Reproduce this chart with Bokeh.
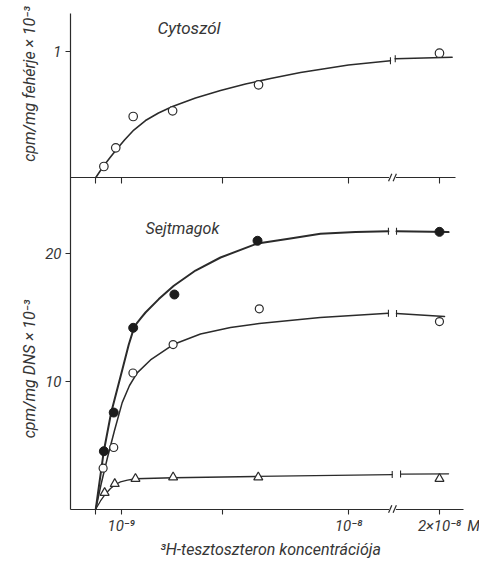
import math
from bokeh.plotting import figure
from bokeh.models import Range1d, FixedTicker, Label, LinearAxis
from bokeh.embed import file_html
from bokeh.resources import INLINE

# ---------------- data (concentration in units of 1e-9 M) ----------------
CYTO_C = [0.32, 0.79, 1.48, 3.04, 6.44, 20]
CYTO_Y = [0.087, 0.235, 0.483, 0.528, 0.734, 0.984]          # cpm/mg protein x 1e-3
CYTO_FIT_C = [0, 0.186, 0.384, 0.582, 0.819, 1.136, 1.504, 1.967, 2.481, 3.035, 3.945,
              4.935, 5.925, 6.914, 8.101, 10.0, 11.66, 18.25, 20.5]
CYTO_FIT_Y = [0, 0.055, 0.111, 0.162, 0.222, 0.297, 0.376, 0.451, 0.511, 0.562, 0.630,
              0.689, 0.740, 0.784, 0.831, 0.891, 0.924, 0.940, 0.952]

FILLED_C = [0.32, 0.71, 1.48, 3.11, 6.40, 20]
FILLED_Y = [4.53, 7.56, 14.2, 16.81, 21.02, 21.72]            # cpm/mg DNA x 1e-3
FILLED_FIT_C = [0, 0.317, 0.609, 1.041, 1.30, 1.48, 1.62, 1.80, 1.967, 2.493, 3.087, 3.945,
                4.935, 6.399, 7.70, 8.89, 10.28, 11.58, 18.3, 20.36]
FILLED_FIT_Y = [0, 4.53, 7.56, 10.85, 12.85, 14.0, 14.55, 15.0, 15.4, 16.45, 17.5, 18.69,
                19.71, 20.81, 21.20, 21.57, 21.71, 21.77, 21.77, 21.70]

OPEN_C = [0.29, 0.71, 1.47, 3.06, 6.47, 20]
OPEN_Y = [3.2, 4.82, 10.66, 12.89, 15.69, 14.69]
OPEN_FIT_C = [0, 0.226, 0.463, 0.740, 1.045, 1.334, 1.638, 2.165, 3.063, 4.143, 5.330,
              6.466, 8.88, 11.58, 18.3, 20.2]
OPEN_FIT_Y = [0, 2.08, 4.04, 6.15, 8.34, 9.68, 10.67, 11.68, 12.89, 13.71, 14.22,
              14.54, 15.01, 15.34, 15.32, 15.09]

TRI_C = [0.35, 0.75, 1.57, 3.06, 6.43, 20]
TRI_Y = [1.27, 1.97, 2.37, 2.49, 2.49, 2.37]
TRI_FIT_C = [0, 0.186, 0.384, 0.582, 0.780, 0.977, 1.254, 1.571, 3.063, 6.399, 11.73, 18.46, 20.36]
TRI_FIT_Y = [0, 0.63, 1.18, 1.61, 1.92, 2.12, 2.27, 2.37, 2.45, 2.55, 2.70, 2.74, 2.76]

X_TICKS_C = [0, 1, 5, 10, 20]
X_TICK_LABELS = ["", "10⁻⁹", "", "10⁻⁸", "2×10⁻⁸"]
Y_TICKS_LOWER = [10, 20]
Y_TICKS_TOP = [1]

# ---------------- broken x axis ----------------
BREAK_C = 12.0          # the axis is broken after this concentration
POS_20 = 13.6           # drawn position of 2x10^-8 M
SHIFT = 20 - POS_20
BREAK_POS = 11.74


def disp(c):
    return c if c <= BREAK_C else c - SHIFT


def split(cs, ys):
    pre = [(disp(c), y) for c, y in zip(cs, ys) if c <= BREAK_C]
    post = [(disp(c), y) for c, y in zip(cs, ys) if c > BREAK_C]
    return pre, post


FONT = "Roboto"
INK = "#2b2b2b"
TXT = "#363636"

# ranges cover the whole canvas; the axes are drawn at fixed locations
XR = Range1d(-3.771, 15.184)
YR = Range1d(-4.114, 39.851)          # lower panel (cpm/mg DNS x 1e-3)
TOP = Range1d(-3.040, 1.4014)         # upper panel (cpm/mg protein x 1e-3)
AXIS_X = -1.001                       # x position of the vertical axis
AXIS_TOP = 38.83                      # top end of the vertical axis (lower units)
BOTTOM_END = 14.55
MID_END = 14.23

p = figure(width=479, height=561, output_backend="svg", toolbar_location=None,
           x_range=XR, y_range=YR, x_axis_type=None, y_axis_type=None,
           min_border=0, min_border_left=0, min_border_right=0,
           min_border_top=0, min_border_bottom=0)
p.extra_y_ranges = {"top": TOP}
p.outline_line_color = None
p.grid.visible = False
p.background_fill_color = "white"
p.border_fill_color = "white"


def top_to_lower(v):
    return YR.start + (v - TOP.start) / (TOP.end - TOP.start) * (YR.end - YR.start)


def style(ax, size="15px"):
    ax.axis_line_color = INK
    ax.axis_line_width = 1.2
    ax.major_tick_line_color = INK
    ax.major_tick_line_width = 1.1
    ax.major_tick_in = 0
    ax.minor_tick_out = 0
    ax.minor_tick_in = 0
    ax.major_label_text_font = FONT
    ax.major_label_text_font_style = "italic"
    ax.major_label_text_font_size = size
    ax.major_label_text_color = TXT


# vertical axis: lower-panel ticks plus the upper panel's "1"
yt_top = [top_to_lower(v) for v in Y_TICKS_TOP]
ov = {t: str(t) for t in Y_TICKS_LOWER}
for t, v in zip(yt_top, Y_TICKS_TOP):
    ov[t] = str(v)
yax = LinearAxis(fixed_location=AXIS_X, bounds=(0, AXIS_TOP),
                 ticker=FixedTicker(ticks=Y_TICKS_LOWER + yt_top, minor_ticks=[]),
                 major_label_overrides=ov)
style(yax)
yax.major_tick_out = 5
yax.major_label_standoff = 4
p.add_layout(yax, "left")

# bottom axis (broken)
xt = [disp(c) for c in X_TICKS_C]
xax = LinearAxis(fixed_location=0, bounds=(AXIS_X, BOTTOM_END),
                 ticker=FixedTicker(ticks=xt, minor_ticks=[]),
                 major_label_overrides={t: l for t, l in zip(xt, X_TICK_LABELS)})
style(xax)
xax.major_tick_out = 5
xax.major_label_standoff = 3
p.add_layout(xax, "below")

# baseline of the upper panel
mid = LinearAxis(y_range_name="top", fixed_location=0, bounds=(AXIS_X, MID_END),
                 ticker=FixedTicker(ticks=xt, minor_ticks=[]),
                 major_label_overrides={t: "" for t in xt})
style(mid, "0px")
mid.major_tick_out = 6
p.add_layout(mid, "below")

# break marks on both horizontal axes
for rng in ("top", "default"):
    p.rect(x=[BREAK_POS], y=[0], width=7, height=5, width_units="screen", height_units="screen",
           fill_color="white", line_color=None, y_range_name=rng, level="overlay")
    p.scatter(x=[BREAK_POS - 0.09, BREAK_POS + 0.09], y=[0, 0], marker="dash", size=8,
              angle=1.15, line_color=INK, line_width=1.2, y_range_name=rng, level="overlay")


def draw_curve(cs, ys, width, rng="default"):
    pre, post = split(cs, ys)
    for seg in (pre, post):
        p.line([a for a, _ in seg], [b for _, b in seg], line_color=INK, line_width=width,
               y_range_name=rng, line_join="round", line_cap="round")
    ends = [pre[-1], post[0]]
    p.scatter([a for a, _ in ends], [b for _, b in ends], marker="dash", angle=math.pi / 2,
              size=7, line_color=INK, line_width=1.1, y_range_name=rng)


draw_curve(CYTO_FIT_C, CYTO_FIT_Y, 1.6, "top")
draw_curve(FILLED_FIT_C, FILLED_FIT_Y, 2.0)
draw_curve(OPEN_FIT_C, OPEN_FIT_Y, 1.5)
draw_curve(TRI_FIT_C, TRI_FIT_Y, 1.3)

p.scatter([disp(c) for c in CYTO_C], CYTO_Y, y_range_name="top", marker="circle", size=8.5,
          fill_color="white", line_color=INK, line_width=1.2)
p.scatter([disp(c) for c in OPEN_C], OPEN_Y, marker="circle", size=8,
          fill_color="white", line_color=INK, line_width=1.2)
p.scatter([disp(c) for c in FILLED_C], FILLED_Y, marker="circle", size=9,
          fill_color="#1c1c1c", line_color="#1c1c1c", line_width=1)
p.scatter([disp(c) for c in TRI_C], TRI_Y, marker="triangle", size=9,
          fill_color="white", line_color=INK, line_width=1.2)


def lab(text, x, y, rng="default", size="16px", align="left", baseline="alphabetic", angle=0):
    p.add_layout(Label(x=x, y=y, text=text, y_range_name=rng, text_font=FONT,
                       text_font_style="italic", text_font_size=size, text_color=TXT,
                       text_align=align, text_baseline=baseline, angle=angle))


lab("Cytoszól", 2.44, 1.184, "top", size="17px")
lab("Sejtmagok", 1.97, 21.98)
lab("cpm/mg fehérje × 10⁻³", -2.62, 0.74, "top", size="16px", align="center", angle=math.pi / 2)
lab("cpm/mg DNS × 10⁻³", -2.62, 10.97, size="16px", align="center", angle=math.pi / 2)
lab("M", 14.95, -1.37, size="15px", align="center", baseline="middle")
lab("³H-tesztoszteron koncentrációja", 6.91, -3.14, size="16px", align="center", baseline="middle")

open("out.html", "w").write(file_html(p, INLINE))
